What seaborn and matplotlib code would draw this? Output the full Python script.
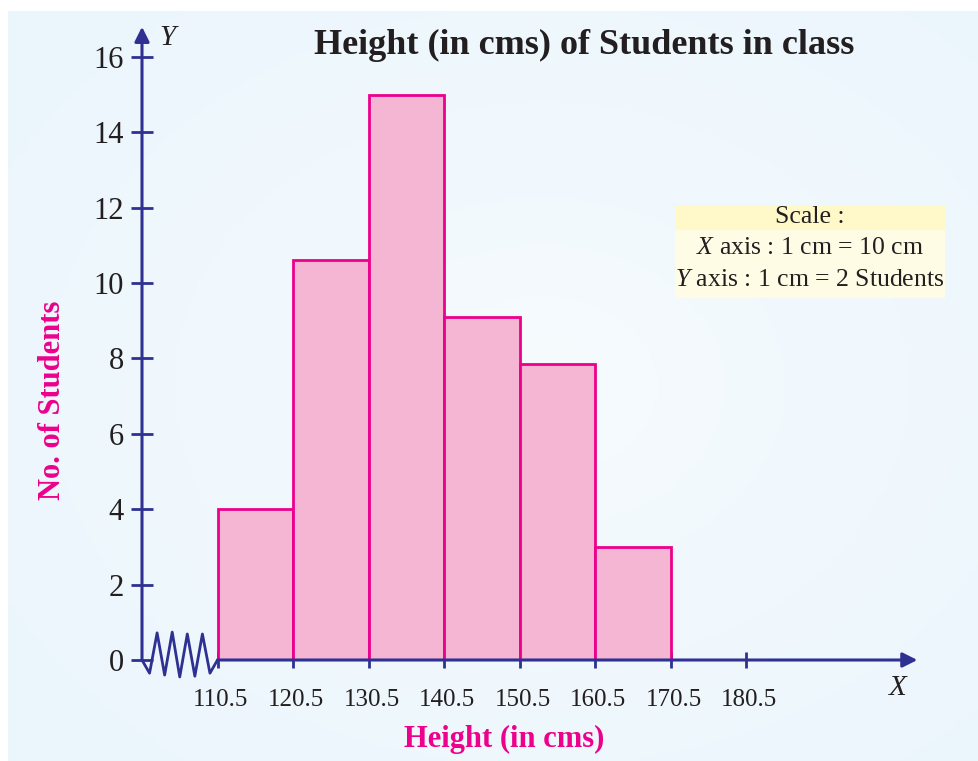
import numpy as np
import matplotlib
matplotlib.use("Agg")
import matplotlib.pyplot as plt
import matplotlib.transforms as mtransforms
from matplotlib.patches import Rectangle
import seaborn as sns

# class intervals (cm) and number of students
edges = [110.5, 120.5, 130.5, 140.5, 150.5, 160.5, 170.5]
counts = [4, 10.6, 15, 9.1, 7.85, 3]
x_ticks = [110.5, 120.5, 130.5, 140.5, 150.5, 160.5, 170.5, 180.5]
y_ticks = [0, 2, 4, 6, 8, 10, 12, 14, 16]
title = "Height (in cms) of Students in class"
x_label = "Height (in cms)"
y_label = "No. of Students"
scale_lines = ["Scale :", r"$X$ axis : 1 cm = 10 cm", r"$Y$ axis : 1 cm = 2 Students"]

NAVY = "#2e3192"
MAGENTA = "#ec008c"
BAR = "#f5b6d3"

sns.set_theme(style="white")
plt.rcParams["font.family"] = ["Liberation Serif", "DejaVu Serif"]
plt.rcParams["mathtext.fontset"] = "custom"
plt.rcParams["mathtext.rm"] = "Liberation Serif"
plt.rcParams["mathtext.it"] = "Liberation Serif:italic"

W, H = 979, 761
fig = plt.figure(figsize=(W / 100, H / 100), dpi=100, facecolor="white")

# soft radial background panel
bg = fig.add_axes([8 / W, 0, 1 - 8 / W, 1 - 11 / H], zorder=-5)
gy, gx = np.mgrid[0:1:200j, 0:1:260j]
r = np.sqrt(((gx - 0.55) / 0.9) ** 2 + ((gy - 0.5) / 0.9) ** 2)
r = np.clip(r / 0.7, 0, 1)
c0 = np.array([0.965, 0.984, 0.996])
c1 = np.array([0.925, 0.965, 0.99])
img = c0 + (c1 - c0) * r[..., None]
bg.imshow(img, aspect="auto", extent=(0, 1, 0, 1))
bg.axis("off")

# main axes: x=100.5 at px 142, y=0 at px 660
x0, px_per_x = 100.5, 7.55
y_px = 37.69
ax = fig.add_axes([142 / W, (H - 660) / H, 778 / W, 635 / H])
ax.set_facecolor("none")

mids = [(a + b) / 2 for a, b in zip(edges[:-1], edges[1:])]
sns.histplot(x=mids, weights=counts, bins=edges, ax=ax, stat="count",
             color=BAR, alpha=1, edgecolor=MAGENTA, linewidth=2)
for p in ax.patches:
    p.set_facecolor(BAR)
    p.set_edgecolor(MAGENTA)

ax.set_xlim(x0, x0 + 778 / px_per_x)
ax.set_ylim(0, 635 / y_px)
for s in ax.spines.values():
    s.set_visible(False)

# axis arrows
ax.annotate("", xy=(203.2, 0), xytext=(110.5, 0), annotation_clip=False,
            arrowprops=dict(arrowstyle="-|>", color=NAVY, lw=2.2,
                            mutation_scale=22, shrinkA=0, shrinkB=0))
ax.annotate("", xy=(x0, 16.8), xytext=(x0, 0), annotation_clip=False,
            arrowprops=dict(arrowstyle="-|>", color=NAVY, lw=2.2,
                            mutation_scale=22, shrinkA=0, shrinkB=0))

# axis break zigzag
zx = np.linspace(x0, 110.5, 11)
zy = [0, -0.35, 0.72, -0.4, 0.74, -0.45, 0.69, -0.43, 0.69, -0.35, 0]
ax.plot(zx, zy, color=NAVY, lw=2, clip_on=False)

ax.set_xticks(x_ticks)
ax.set_xticklabels([f"{t:.1f}" for t in x_ticks])
ax.set_yticks(y_ticks)
ax.tick_params(axis="x", direction="inout", length=12, width=2, color=NAVY,
               pad=15, labelsize=18, labelcolor="#231f20", bottom=True)
ax.tick_params(axis="y", direction="inout", length=16, width=2, color=NAVY,
               pad=5, labelsize=22, labelcolor="#231f20", left=True)
shift = mtransforms.ScaledTranslation(3 / 100, 0, fig.dpi_scale_trans)
for lab in ax.get_xticklabels():
    lab.set_transform(lab.get_transform() + shift)
ax.set_xlabel("")
ax.set_ylabel("")

# titles / labels in figure pixels
def fx(px):
    return px / W


def fy(py):
    return 1 - py / H


fig.text(fx(584), fy(45), title, fontsize=26, fontweight="bold",
         color="#231f20", ha="center", va="center")
fig.text(fx(504), fy(739), x_label, fontsize=22, fontweight="bold",
         color=MAGENTA, ha="center", va="center")
fig.text(fx(53), fy(400), y_label, fontsize=22, fontweight="bold",
         color=MAGENTA, ha="center", va="center", rotation=90)
fig.text(fx(898), fy(688), "X", fontsize=21, style="italic",
         color="#231f20", ha="center", va="center")
fig.text(fx(167), fy(38), "Y", fontsize=21, style="italic",
         color="#231f20", ha="center", va="center")

# scale box
fig.patches.append(Rectangle((fx(675), fy(298)), 270 / W, 93 / H,
                             transform=fig.transFigure, facecolor="#fffce6",
                             edgecolor="none", zorder=1))
fig.patches.append(Rectangle((fx(675), fy(230)), 270 / W, 25 / H,
                             transform=fig.transFigure, facecolor="#fff8c8",
                             edgecolor="none", zorder=1))
for line, py in zip(scale_lines, [217, 248, 280]):
    fig.text(fx(810), fy(py), line, fontsize=18.5, color="#231f20",
             ha="center", va="center", zorder=2)

fig.savefig("out.png", dpi=100)
